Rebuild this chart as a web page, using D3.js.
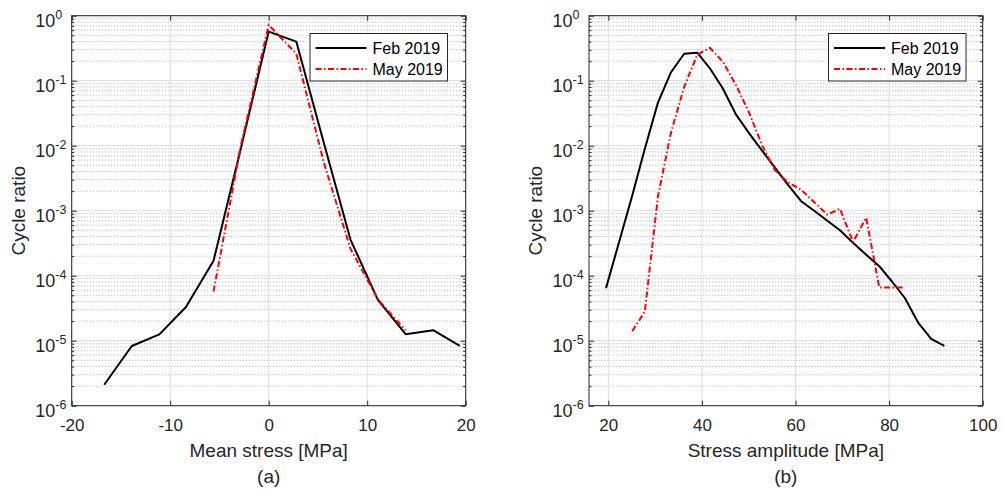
<!DOCTYPE html>
<html><head><meta charset="utf-8">
<script src="https://cdn.jsdelivr.net/npm/d3@7"></script>
<style>body{margin:0;background:#fff}svg{display:block;font-family:"Liberation Sans",Arial,sans-serif}</style>
</head><body><svg id="c" width="1004" height="489"></svg>
<script>
// ---- data ----
const seriesNames = ["Feb 2019", "May 2019"];
const yDecades = [1, 1e-1, 1e-2, 1e-3, 1e-4, 1e-5, 1e-6];
const meanTicks = [-20, -10, 0, 10, 20];
const ampTicks = [20, 40, 60, 80, 100];

const meanX_Feb = [-16.7, -13.9, -11.1, -8.4, -5.6, -2.8, 0, 2.8, 5.6, 8.3, 11.1, 13.9, 16.7, 19.4];
const meanY_Feb = [2.1e-6, 8.3e-6, 1.25e-5, 3.3e-5, 1.7e-4, 9.5e-3, 0.57, 0.40, 0.011, 3.6e-4, 4.2e-5, 1.26e-5, 1.45e-5, 8.3e-6];
const meanX_May = [-5.6, -2.8, 0, 2.8, 5.6, 8.3, 11.1, 13.9];
const meanY_May = [5.7e-5, 0.0105, 0.72, 0.26, 0.0055, 2.6e-4, 4.3e-5, 1.45e-5];

const ampX_Feb = [19.5, 22.3, 25.1, 27.8, 30.6, 33.4, 36.2, 39.0, 41.7, 44.5, 47.3, 50.1, 52.9, 55.6, 58.4, 61.2, 64.0, 66.8, 69.5, 72.3, 75.1, 77.9, 80.7, 83.4, 86.2, 89.0, 91.8];
const ampY_Feb = [6.4e-5, 3.3e-4, 1.7e-3, 9e-3, 0.046, 0.135, 0.26, 0.27, 0.155, 0.075, 0.03, 0.0155, 0.0083, 0.0046, 0.0025, 0.0014, 1.0e-3, 7e-4, 5e-4, 3.2e-4, 2.1e-4, 1.4e-4, 8e-5, 4.5e-5, 1.9e-5, 1.07e-5, 8.3e-6];
const ampX_May = [25.1, 27.8, 30.6, 33.4, 36.2, 39.0, 41.7, 44.5, 47.3, 50.1, 52.9, 55.6, 58.4, 61.2, 64.0, 66.8, 69.5, 72.3, 75.1, 77.9, 80.7, 83.4];
const ampY_May = [1.4e-5, 2.8e-5, 1.65e-3, 0.016, 0.08, 0.25, 0.32, 0.195, 0.085, 0.032, 0.01, 0.0042, 0.00275, 0.0021, 0.00135, 8.7e-4, 1.07e-3, 3.3e-4, 7.8e-4, 6.6e-5, 6.6e-5, 6.6e-5];

// ---- drawing ----
const svg = d3.select("#c");
svg.append("rect").attr("width", 1004).attr("height", 489).attr("fill", "#fff");
const AX = "#262626";

function panel(o) {
  const g = svg.append("g");
  const x = d3.scaleLinear().domain(o.xDomain).range([o.left, o.right]);
  const y = d3.scaleLog().domain([1e-6, 1]).range([o.bottom, o.top]);
  const minor = [];
  for (let e = -6; e < 0; e++) for (let k = 2; k <= 9; k++) minor.push(k * Math.pow(10, e));

  // minor grid
  g.append("g").selectAll("line").data(minor).join("line")
    .attr("x1", o.left).attr("x2", o.right)
    .attr("y1", d => y(d)).attr("y2", d => y(d))
    .attr("stroke", "#c6c6c6").attr("stroke-width", 1).attr("stroke-dasharray", "1.5,1.5");
  // major grid
  g.append("g").selectAll("line").data(yDecades).join("line")
    .attr("x1", o.left).attr("x2", o.right)
    .attr("y1", d => y(d)).attr("y2", d => y(d))
    .attr("stroke", "#dcdcdc").attr("stroke-width", 1);
  g.append("g").selectAll("line").data(o.xTicks).join("line")
    .attr("x1", d => x(d)).attr("x2", d => x(d))
    .attr("y1", o.top).attr("y2", o.bottom)
    .attr("stroke", "#dedede").attr("stroke-width", 1);

  // axes ticks
  const strip = s => s.select(".domain").remove();
  const styl = s => s.selectAll("line").attr("stroke", AX);
  g.append("g").attr("transform", `translate(0,${o.bottom})`)
    .call(d3.axisBottom(x).tickValues(o.xTicks).tickSizeInner(-5).tickSizeOuter(0).tickPadding(0).tickFormat(d3.format("d")))
    .call(strip).call(styl)
    .call(s => s.selectAll("text").attr("y", 25.5).attr("dy", null).attr("font-size", 17)
      .attr("fill", AX).attr("font-family", '"Liberation Sans",Arial,sans-serif').text(d => String(d).replace("−", "-")));
  g.append("g").attr("transform", `translate(0,${o.top})`)
    .call(d3.axisTop(x).tickValues(o.xTicks).tickSizeInner(-5).tickSizeOuter(0).tickFormat(""))
    .call(strip).call(styl);
  g.append("g").attr("transform", `translate(${o.left},0)`)
    .call(d3.axisLeft(y).tickValues(yDecades).tickSizeInner(-5).tickSizeOuter(0).tickFormat(""))
    .call(strip).call(styl);
  g.append("g").attr("transform", `translate(${o.left},0)`)
    .call(d3.axisLeft(y).tickValues(minor).tickSizeInner(-2.5).tickSizeOuter(0).tickFormat(""))
    .call(strip).call(styl);
  g.append("g").attr("transform", `translate(${o.right},0)`)
    .call(d3.axisRight(y).tickValues(yDecades).tickSizeInner(-5).tickSizeOuter(0).tickFormat(""))
    .call(strip).call(styl);
  g.append("g").attr("transform", `translate(${o.right},0)`)
    .call(d3.axisRight(y).tickValues(minor).tickSizeInner(-2.5).tickSizeOuter(0).tickFormat(""))
    .call(strip).call(styl);

  // box
  g.append("rect").attr("x", o.left).attr("y", o.top)
    .attr("width", o.right - o.left).attr("height", o.bottom - o.top)
    .attr("fill", "none").attr("stroke", AX).attr("stroke-width", 1);

  // y tick labels 10^n
  const yl = g.append("g").selectAll("text").data(yDecades).join("text")
    .attr("x", o.left - 36.5).attr("y", d => y(d) + 11.5)
    .attr("font-size", 18).attr("fill", AX).text("10");
  yl.append("tspan").attr("dy", -8.5).attr("font-size", 12.5)
    .text(d => String(Math.round(Math.log10(d))));

  // lines
  const line = d3.line().x(d => x(d[0])).y(d => y(d[1]));
  g.append("path").datum(d3.zip(o.xFeb, o.yFeb)).attr("d", line)
    .attr("fill", "none").attr("stroke", "#000").attr("stroke-width", 2).attr("stroke-linejoin", "round");
  g.append("path").datum(d3.zip(o.xMay, o.yMay)).attr("d", line)
    .attr("fill", "none").attr("stroke", "#ff0000").attr("stroke-width", 2)
    .attr("stroke-dasharray", "6,2.5,1.5,2.5");

  // labels
  const cx = (o.left + o.right) / 2;
  g.append("text").attr("x", cx).attr("y", 457).attr("text-anchor", "middle")
    .attr("font-size", 19).attr("fill", AX).text(o.xLabel);
  g.append("text").attr("x", cx).attr("y", 483).attr("text-anchor", "middle")
    .attr("font-size", 19).attr("fill", AX).text(o.sub);
  g.append("text").attr("transform", `translate(${o.ylabX},${(o.top + o.bottom) / 2}) rotate(-90)`)
    .attr("text-anchor", "middle").attr("font-size", 19).attr("fill", AX).text("Cycle ratio");

  // legend
  const lg = g.append("g");
  const lx = o.legX, ly = 33.5, lw = 137.5, lh = 47.5;
  lg.append("rect").attr("x", lx).attr("y", ly).attr("width", lw).attr("height", lh)
    .attr("fill", "#fff").attr("stroke", AX).attr("stroke-width", 1);
  const rows = [{ n: seriesNames[0], c: "#000", da: null, yy: ly + 14.5 },
                { n: seriesNames[1], c: "#ff0000", da: "6,2.5,1.5,2.5", yy: ly + 35.5 }];
  rows.forEach(r => {
    lg.append("line").attr("x1", lx + 5.5).attr("x2", lx + 56.5).attr("y1", r.yy).attr("y2", r.yy)
      .attr("stroke", r.c).attr("stroke-width", 2).attr("stroke-dasharray", r.da);
    lg.append("text").attr("x", lx + 62.5).attr("y", r.yy + 6).attr("font-size", 16)
      .attr("fill", "#000").text(r.n);
  });
}

panel({ xDomain: [-20, 20], left: 71.7, right: 465.7, top: 15.7, bottom: 405.7,
  xTicks: meanTicks, xFeb: meanX_Feb, yFeb: meanY_Feb, xMay: meanX_May, yMay: meanY_May,
  xLabel: "Mean stress [MPa]", sub: "(a)", ylabX: 25, legX: 310 });
panel({ xDomain: [15.87, 100], left: 589, right: 982.7, top: 15.7, bottom: 405.7,
  xTicks: ampTicks, xFeb: ampX_Feb, yFeb: ampY_Feb, xMay: ampX_May, yMay: ampY_May,
  xLabel: "Stress amplitude [MPa]", sub: "(b)", ylabX: 542, legX: 828.5 });
</script></body></html>
